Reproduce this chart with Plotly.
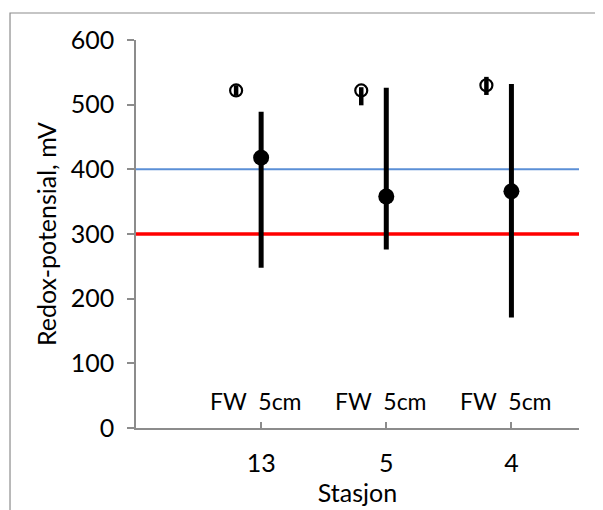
import plotly.graph_objects as go

stations = ["13", "5", "4"]
station_pos = [1, 2, 3]
fw_offset = -0.2

fw_values = [522, 522, 530]
fw_err_plus = [8, 5, 13]
fw_err_minus = [8, 23, 15]

cm5_values = [418, 358, 366]
cm5_max = [489, 526, 532]
cm5_min = [248, 276, 171]

ref_blue = 400
ref_red = 300

group_label = "FW  5cm"

cm5_plus = [mx - v for mx, v in zip(cm5_max, cm5_values)]
cm5_minus = [v - mn for mn, v in zip(cm5_min, cm5_values)]
fw_x = [p + fw_offset for p in station_pos]

FONT = "Lato"
FS = 25
GREY = "#8c8c8c"

fig = go.Figure()

xr = [0, 3.54]
fig.add_trace(go.Scatter(x=xr, y=[ref_blue, ref_blue], mode="lines",
                         line=dict(color="#5b8fd6", width=2), showlegend=False, hoverinfo="skip"))
fig.add_trace(go.Scatter(x=xr, y=[ref_red, ref_red], mode="lines",
                         line=dict(color="#ff0000", width=3.5), showlegend=False, hoverinfo="skip"))

fig.add_trace(go.Scatter(
    x=fw_x, y=fw_values, mode="markers",
    marker=dict(symbol="circle-open", size=12, color="black", line=dict(width=2.2, color="black")),
    error_y=dict(type="data", symmetric=False, array=fw_err_plus, arrayminus=fw_err_minus,
                 color="black", thickness=4.5, width=0),
    showlegend=False))

fig.add_trace(go.Scatter(
    x=station_pos, y=cm5_values, mode="markers",
    marker=dict(symbol="circle", size=16, color="black"),
    error_y=dict(type="data", symmetric=False, array=cm5_plus, arrayminus=cm5_minus,
                 color="black", thickness=5, width=0),
    showlegend=False))

for p in station_pos:
    fig.add_annotation(x=p - 0.045, y=42, text=group_label, showarrow=False,
                       font=dict(family=FONT, size=23, color="black"),
                       xanchor="center", yanchor="middle")

fig.add_shape(type="rect", xref="paper", yref="paper",
              x0=-0.2844, x1=1.1, y0=-0.3, y1=1.0696,
              line=dict(color=GREY, width=1.2), fillcolor="rgba(0,0,0,0)", layer="below")

fig.update_layout(
    width=603, height=510,
    margin=dict(l=128, r=32, t=32, b=90),
    paper_bgcolor="white", plot_bgcolor="white",
    font=dict(family=FONT, size=FS, color="black"),
    xaxis=dict(range=xr, tickvals=station_pos, ticktext=stations,
               showgrid=False, zeroline=False, showline=True, linecolor=GREY, linewidth=1.5,
               ticks="inside", ticklen=6, tickcolor=GREY, tickwidth=1.5,
               ticklabelstandoff=12,
               title=dict(text="Stasjon", standoff=4, font=dict(family=FONT, size=FS))),
    yaxis=dict(range=[0, 600], dtick=100, showgrid=False, zeroline=False,
               showline=True, linecolor=GREY, linewidth=1.5,
               ticks="outside", ticklen=7, tickcolor=GREY, tickwidth=1.5,
               ticklabelstandoff=8,
               title=dict(text="Redox-potensial, mV", standoff=7, font=dict(family=FONT, size=FS))),
)

fig.write_html("out.html")
